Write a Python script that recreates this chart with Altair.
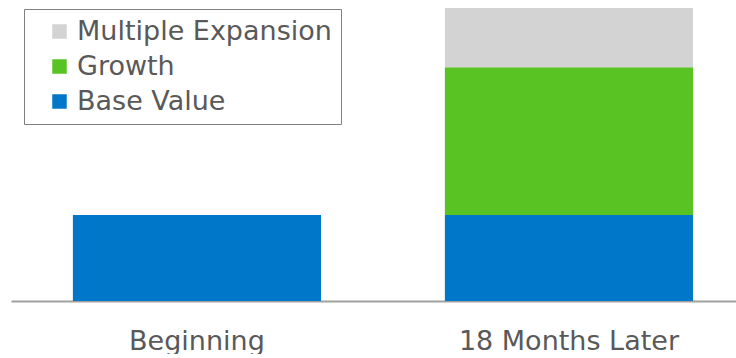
import altair as alt
import pandas as pd

periods = ["Beginning", "18 Months Later", "18 Months Later", "18 Months Later"]
components = ["Base Value", "Base Value", "Growth", "Multiple Expansion"]
values = [100, 100, 172, 69]
stack_order = [0, 0, 1, 2]

legend_order = ["Multiple Expansion", "Growth", "Base Value"]
colors = ["#d3d3d3", "#58c322", "#0077c8"]
categories = ["Beginning", "18 Months Later"]

df = pd.DataFrame({"period": periods, "component": components,
                   "value": values, "ord": stack_order})

FONT = "DejaVu Sans"
TXT = "#595959"

chart = alt.Chart(df).mark_bar().encode(
    x=alt.X("period:N", sort=categories,
            scale=alt.Scale(paddingInner=0.333, paddingOuter=0.141, align=0.59),
            axis=alt.Axis(title=None, labelAngle=0, ticks=False, domainColor="#a0a0a0",
                          domainWidth=2, labelFont=FONT, labelFontSize=27,
                          labelColor=TXT, labelPadding=27, labelBaseline="top",
                          labelLimit=400)),
    y=alt.Y("value:Q", stack="zero", scale=alt.Scale(domain=[0, 341], nice=False),
            axis=None),
    color=alt.Color("component:N",
                    scale=alt.Scale(domain=legend_order, range=colors),
                    legend=alt.Legend(title=None, orient="none", legendX=13, legendY=1,
                                      symbolType="square", symbolSize=210,
                                      symbolStrokeWidth=0,
                                      labelFont=FONT, labelFontSize=27, labelColor=TXT,
                                      rowPadding=7, padding=9,
                                      strokeColor="#808080", fillColor="white",
                                      labelLimit=400, symbolOffset=13,
                                      labelOffset=4)),
    order=alt.Order("ord:Q", sort="ascending"),
).properties(
    width=725, height=293, padding={"left": 11, "top": 8, "right": 0, "bottom": 0}
).configure_view(stroke=None)

chart.save("out.html", embed_options={"renderer": "svg", "actions": False})
